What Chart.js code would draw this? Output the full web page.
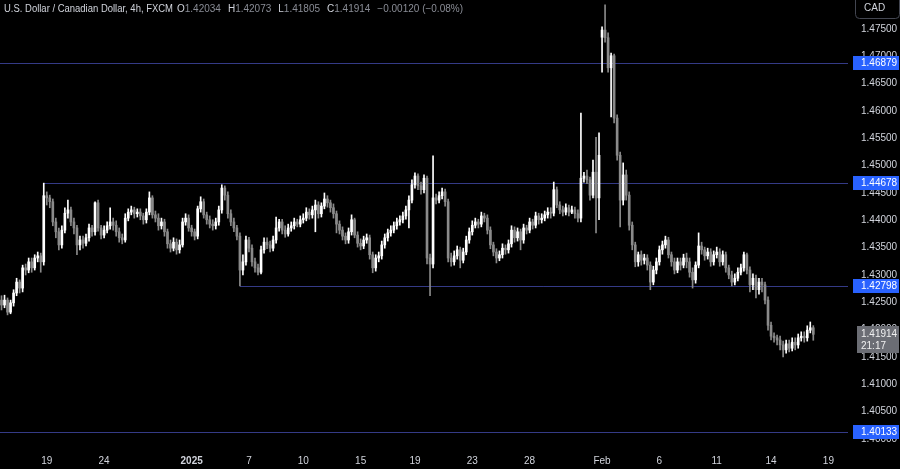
<!DOCTYPE html>
<html><head><meta charset="utf-8">
<script src="https://cdn.jsdelivr.net/npm/chart.js@4.4.1/dist/chart.umd.min.js"></script>
<style>html,body{margin:0;padding:0;background:#000;overflow:hidden}#wrap{width:900px;height:469px;position:relative}</style>
</head><body><div id="wrap"><canvas id="c"></canvas></div>
<script>
const symbolTitle = 'U.S. Dollar / Canadian Dollar, 4h, FXCM';
const currency = 'CAD';
const countdown = '21:17';

const dayNames = ['Dec 16','Dec 17','Dec 18','Dec 19','Dec 20','Dec 22','Dec 23','Dec 24','Dec 26','Dec 27','Dec 29','Dec 30','Dec 31',
'Jan 2','Jan 3','Jan 5','Jan 6','Jan 7','Jan 8','Jan 9','Jan 10','Jan 12','Jan 13','Jan 14','Jan 15','Jan 16','Jan 17','Jan 19','Jan 20','Jan 21','Jan 22','Jan 23','Jan 24','Jan 26','Jan 27','Jan 28','Jan 29','Jan 30','Jan 31',
'Feb 2','Feb 3','Feb 4','Feb 5','Feb 6','Feb 7','Feb 9','Feb 10','Feb 11','Feb 12','Feb 13','Feb 14','Feb 16','Feb 17','Feb 18','Feb 19','Feb 20'];
const dayCounts = [3,6,6,6,6,1,6,5,6,6,1,6,5,
6,6,1,6,6,6,6,6,1,6,6,6,6,6,1,6,6,6,6,6,1,6,6,6,6,6,
1,6,6,6,6,6,1,6,6,6,6,6,1,6,6,6,1];
const tickDays  = ['Dec 19','Dec 24','Jan 2','Jan 7','Jan 10','Jan 15','Jan 19','Jan 23','Jan 28','Feb 2','Feb 6','Feb 11','Feb 14','Feb 19'];
const tickTexts = ['19','24','2025','7','10','15','19','23','28','Feb','6','11','14','19'];
const yTickStep = 0.005;

const opens = [1.4254,1.4245,1.4254,1.4232,1.4249,1.4267,1.4287,1.4276,1.4313,1.4309,
1.4324,1.4313,1.4331,1.4335,1.4324,1.4445,1.4441,1.4434,1.4397,1.4379,
1.4355,1.4382,1.4413,1.4419,1.4397,1.4386,1.4355,1.4364,1.4358,1.4368,
1.4386,1.4379,1.4432,1.4386,1.4373,1.4382,1.4390,1.4397,1.4391,1.4379,
1.4368,1.4364,1.4404,1.4415,1.4419,1.4412,1.4415,1.4408,1.4401,1.4415,
1.4441,1.4410,1.4404,1.4390,1.4397,1.4379,1.4357,1.4349,1.4360,1.4346,
1.4355,1.4397,1.4404,1.4386,1.4379,1.4371,1.4421,1.4434,1.4410,1.4401,
1.4393,1.4390,1.4397,1.4419,1.4459,1.4446,1.4412,1.4397,1.4386,1.4371,
1.4309,1.4324,1.4364,1.4349,1.4324,1.4313,1.4305,1.4346,1.4360,1.4355,
1.4349,1.4364,1.4386,1.4397,1.4382,1.4375,1.4386,1.4390,1.4397,1.4393,
1.4401,1.4404,1.4415,1.4410,1.4419,1.4428,1.4412,1.4426,1.4439,1.4432,
1.4423,1.4412,1.4393,1.4382,1.4371,1.4364,1.4379,1.4401,1.4373,1.4358,
1.4353,1.4364,1.4368,1.4337,1.4313,1.4331,1.4335,1.4355,1.4368,1.4377,
1.4382,1.4390,1.4397,1.4401,1.4408,1.4419,1.4437,1.4465,1.4481,1.4463,
1.4456,1.4477,1.4331,1.4320,1.4441,1.4437,1.4445,1.4452,1.4434,1.4331,
1.4324,1.4335,1.4346,1.4327,1.4342,1.4364,1.4379,1.4391,1.4397,1.4393,
1.4408,1.4404,1.4382,1.4355,1.4342,1.4331,1.4337,1.4349,1.4346,1.4357,
1.4382,1.4368,1.4379,1.4364,1.4386,1.4382,1.4397,1.4391,1.4408,1.4401,
1.4404,1.4410,1.4415,1.4413,1.4456,1.4428,1.4419,1.4415,1.4423,1.4415,
1.4419,1.4412,1.4404,1.4477,1.4481,1.4474,1.4446,1.4488,1.4441,1.4735,
1.4748,1.4734,1.4679,1.4701,1.4587,1.4519,1.4437,1.4483,1.4446,1.4391,
1.4355,1.4324,1.4337,1.4327,1.4331,1.4318,1.4287,1.4309,1.4324,1.4346,
1.4355,1.4364,1.4337,1.4324,1.4309,1.4324,1.4318,1.4331,1.4324,1.4305,
1.4291,1.4318,1.4353,1.4346,1.4335,1.4342,1.4324,1.4337,1.4342,1.4324,
1.4337,1.4313,1.4300,1.4287,1.4294,1.4305,1.4313,1.4337,1.4309,1.4282,
1.4294,1.4273,1.4287,1.4282,1.4254,1.4208,1.4188,1.4185,1.4181,1.4172,
1.4163,1.4174,1.4166,1.4177,1.4172,1.4185,1.4188,1.4185,1.4199,1.42034];

const highs = [1.4262,1.4263,1.4258,1.4254,1.4273,1.4294,1.4291,1.4318,1.4320,1.4331,
1.4331,1.4337,1.4342,1.4340,1.4468,1.4452,1.4446,1.4439,1.4404,1.4386,
1.4390,1.4423,1.4437,1.4424,1.4404,1.4391,1.4371,1.4371,1.4375,1.4393,
1.4391,1.4434,1.4437,1.4391,1.4390,1.4397,1.4423,1.4404,1.4399,1.4386,
1.4375,1.4412,1.4421,1.4426,1.4424,1.4421,1.4421,1.4413,1.4421,1.4452,
1.4445,1.4417,1.4412,1.4404,1.4402,1.4384,1.4364,1.4368,1.4366,1.4364,
1.4404,1.4412,1.4410,1.4391,1.4384,1.4426,1.4443,1.4439,1.4415,1.4408,
1.4401,1.4404,1.4426,1.4465,1.4463,1.4452,1.4419,1.4404,1.4391,1.4377,
1.4337,1.4371,1.4369,1.4355,1.4331,1.4320,1.4353,1.4368,1.4368,1.4362,
1.4371,1.4406,1.4402,1.4402,1.4390,1.4393,1.4397,1.4404,1.4402,1.4408,
1.4412,1.4423,1.4421,1.4426,1.4437,1.4434,1.4432,1.4450,1.4445,1.4437,
1.4430,1.4417,1.4399,1.4388,1.4377,1.4386,1.4410,1.4404,1.4379,1.4366,
1.4371,1.4375,1.4373,1.4342,1.4337,1.4342,1.4362,1.4375,1.4384,1.4390,
1.4397,1.4404,1.4408,1.4415,1.4426,1.4445,1.4474,1.4487,1.4485,1.4470,
1.4483,1.4481,1.4338,1.4518,1.4448,1.4452,1.4459,1.4457,1.4439,1.4340,
1.4344,1.4353,1.4351,1.4349,1.4371,1.4386,1.4399,1.4404,1.4402,1.4415,
1.4413,1.4410,1.4388,1.4360,1.4348,1.4344,1.4357,1.4355,1.4364,1.4390,
1.4388,1.4386,1.4384,1.4393,1.4391,1.4404,1.4402,1.4415,1.4413,1.4412,
1.4417,1.4423,1.4423,1.4470,1.4461,1.4434,1.4426,1.4430,1.4428,1.4426,
1.4424,1.4419,1.4596,1.4488,1.4492,1.4479,1.4510,1.4552,1.4560,1.4754,
1.4794,1.4743,1.4706,1.4704,1.4593,1.4525,1.4505,1.4492,1.4452,1.4397,
1.4360,1.4342,1.4344,1.4338,1.4337,1.4324,1.4316,1.4331,1.4353,1.4362,
1.4371,1.4369,1.4342,1.4331,1.4331,1.4331,1.4338,1.4340,1.4331,1.4313,
1.4324,1.4377,1.4360,1.4351,1.4349,1.4348,1.4344,1.4351,1.4348,1.4344,
1.4342,1.4318,1.4307,1.4302,1.4313,1.4320,1.4342,1.4340,1.4315,1.4302,
1.4300,1.4294,1.4294,1.4287,1.4260,1.4214,1.4194,1.4190,1.4188,1.4179,
1.4181,1.4181,1.4185,1.4185,1.4192,1.4196,1.4196,1.4207,1.4214,1.42073];

const lows = [1.4236,1.4240,1.4227,1.4229,1.4243,1.4262,1.4267,1.4269,1.4300,1.4304,
1.4305,1.4309,1.4324,1.4305,1.4318,1.4428,1.4423,1.4390,1.4368,1.4346,
1.4349,1.4377,1.4404,1.4390,1.4375,1.4337,1.4346,1.4349,1.4353,1.4362,
1.4371,1.4373,1.4380,1.4366,1.4368,1.4377,1.4384,1.4382,1.4371,1.4360,
1.4357,1.4360,1.4399,1.4410,1.4404,1.4406,1.4401,1.4393,1.4395,1.4410,
1.4404,1.4397,1.4382,1.4384,1.4371,1.4349,1.4342,1.4344,1.4338,1.4340,
1.4351,1.4391,1.4380,1.4371,1.4364,1.4366,1.4415,1.4404,1.4393,1.4386,
1.4382,1.4384,1.4391,1.4413,1.4437,1.4404,1.4390,1.4379,1.4364,1.4280,
1.4300,1.4318,1.4342,1.4316,1.4305,1.4300,1.4302,1.4340,1.4348,1.4342,
1.4344,1.4358,1.4380,1.4375,1.4369,1.4371,1.4380,1.4384,1.4388,1.4388,
1.4395,1.4399,1.4402,1.4404,1.4379,1.4404,1.4406,1.4421,1.4424,1.4415,
1.4404,1.4377,1.4375,1.4364,1.4357,1.4358,1.4373,1.4368,1.4351,1.4346,
1.4348,1.4358,1.4329,1.4304,1.4307,1.4324,1.4329,1.4349,1.4362,1.4371,
1.4377,1.4384,1.4391,1.4395,1.4402,1.4386,1.4432,1.4459,1.4456,1.4448,
1.4450,1.4320,1.4262,1.4313,1.4430,1.4432,1.4439,1.4426,1.4324,1.4316,
1.4318,1.4329,1.4313,1.4322,1.4337,1.4358,1.4373,1.4386,1.4386,1.4388,
1.4397,1.4375,1.4348,1.4335,1.4322,1.4326,1.4331,1.4338,1.4340,1.4351,
1.4360,1.4362,1.4346,1.4358,1.4375,1.4377,1.4384,1.4386,1.4393,1.4395,
1.4399,1.4404,1.4404,1.4408,1.4423,1.4412,1.4408,1.4410,1.4408,1.4412,
1.4404,1.4397,1.4397,1.4470,1.4467,1.4437,1.4441,1.4377,1.4401,1.4671,
1.4726,1.4671,1.4589,1.4578,1.4510,1.4388,1.4428,1.4437,1.4382,1.4346,
1.4315,1.4316,1.4318,1.4320,1.4309,1.4273,1.4282,1.4302,1.4318,1.4338,
1.4349,1.4331,1.4316,1.4302,1.4304,1.4309,1.4313,1.4313,1.4296,1.4276,
1.4285,1.4313,1.4338,1.4327,1.4329,1.4316,1.4318,1.4331,1.4316,1.4318,
1.4305,1.4293,1.4280,1.4282,1.4289,1.4300,1.4307,1.4302,1.4269,1.4273,
1.4258,1.4265,1.4269,1.4247,1.4199,1.4181,1.4177,1.4172,1.4163,1.4150,
1.4157,1.4159,1.4161,1.4163,1.4166,1.4179,1.4177,1.4179,1.4194,1.41805];

const closes = [1.4245,1.4254,1.4232,1.4249,1.4267,1.4287,1.4276,1.4313,1.4309,1.4324,
1.4313,1.4331,1.4335,1.4324,1.4445,1.4441,1.4434,1.4397,1.4379,1.4355,
1.4382,1.4413,1.4419,1.4397,1.4386,1.4355,1.4364,1.4358,1.4368,1.4386,
1.4379,1.4432,1.4386,1.4373,1.4382,1.4390,1.4397,1.4391,1.4379,1.4368,
1.4364,1.4404,1.4415,1.4419,1.4412,1.4415,1.4408,1.4401,1.4415,1.4441,
1.4410,1.4404,1.4390,1.4397,1.4379,1.4357,1.4349,1.4360,1.4346,1.4355,
1.4397,1.4404,1.4386,1.4379,1.4371,1.4421,1.4434,1.4410,1.4401,1.4393,
1.4390,1.4397,1.4419,1.4459,1.4446,1.4412,1.4397,1.4386,1.4371,1.4309,
1.4324,1.4364,1.4349,1.4324,1.4313,1.4305,1.4346,1.4360,1.4355,1.4349,
1.4364,1.4386,1.4397,1.4382,1.4375,1.4386,1.4390,1.4397,1.4393,1.4401,
1.4404,1.4415,1.4410,1.4419,1.4428,1.4412,1.4426,1.4439,1.4432,1.4423,
1.4412,1.4393,1.4382,1.4371,1.4364,1.4379,1.4401,1.4373,1.4358,1.4353,
1.4364,1.4368,1.4337,1.4313,1.4331,1.4335,1.4355,1.4368,1.4377,1.4382,
1.4390,1.4397,1.4401,1.4408,1.4419,1.4437,1.4465,1.4481,1.4463,1.4456,
1.4477,1.4331,1.4320,1.4441,1.4437,1.4445,1.4452,1.4434,1.4331,1.4324,
1.4335,1.4346,1.4327,1.4342,1.4364,1.4379,1.4391,1.4397,1.4393,1.4408,
1.4404,1.4382,1.4355,1.4342,1.4331,1.4337,1.4349,1.4346,1.4357,1.4382,
1.4368,1.4379,1.4364,1.4386,1.4382,1.4397,1.4391,1.4408,1.4401,1.4404,
1.4410,1.4415,1.4413,1.4456,1.4428,1.4419,1.4415,1.4423,1.4415,1.4419,
1.4412,1.4404,1.4477,1.4481,1.4474,1.4446,1.4488,1.4441,1.4519,1.4748,
1.4734,1.4679,1.4701,1.4587,1.4519,1.4437,1.4483,1.4446,1.4391,1.4355,
1.4324,1.4337,1.4327,1.4331,1.4318,1.4287,1.4309,1.4324,1.4346,1.4355,
1.4364,1.4337,1.4324,1.4309,1.4324,1.4318,1.4331,1.4324,1.4305,1.4291,
1.4318,1.4353,1.4346,1.4335,1.4342,1.4324,1.4337,1.4342,1.4324,1.4337,
1.4313,1.4300,1.4287,1.4294,1.4305,1.4313,1.4337,1.4309,1.4282,1.4294,
1.4273,1.4287,1.4282,1.4254,1.4208,1.4188,1.4185,1.4181,1.4172,1.4163,
1.4174,1.4166,1.4177,1.4172,1.4185,1.4188,1.4185,1.4199,1.42034,1.41914];

const levels = [1.46879, 1.44678, 1.42798, 1.40133];
const levelAnchors = [null, 14, 79, null];

// ---- build category labels ----
const catLabels = [];
const tickAt = {};
dayNames.forEach((d, k) => {
  const p = tickDays.indexOf(d);
  if (p >= 0) tickAt[catLabels.length] = tickTexts[p];
  for (let j = 0; j < dayCounts[k]; j++) catLabels.push(d + ' ' + String(j * 4).padStart(2, '0') + ':00');
});

const UP = '#ffffff', DOWN = '#8a8a8a';
const candleColors = closes.map((c, i) => c >= opens[i] ? UP : DOWN);
const FONT = '"Liberation Sans", Arial, sans-serif';
const TXT = '#d1d4dc';
const Y_MIN = 1.398527, Y_MAX = 1.480305;

const overlay = {
  id: 'overlay',
  beforeDraw(chart) {
    const c = chart.ctx;
    c.save(); c.fillStyle = '#000'; c.fillRect(0, 0, chart.width, chart.height); c.restore();
  },
  beforeDatasetsDraw(chart) {
    const c = chart.ctx, ys = chart.scales.y, xs = chart.scales.x, a = chart.chartArea;
    c.save();
    c.strokeStyle = '#343a86'; c.lineWidth = 1;
    levels.forEach((v, k) => {
      const py = Math.round(ys.getPixelForValue(v)) + 0.5;
      const x0 = levelAnchors[k] == null ? a.left : xs.getPixelForValue(levelAnchors[k]);
      c.beginPath(); c.moveTo(x0, py); c.lineTo(a.right, py); c.stroke();
    });
    c.restore();
  },
  afterDraw(chart) {
    const c = chart.ctx, ys = chart.scales.y;
    c.save();
    c.font = '10px ' + FONT;
    c.textBaseline = 'middle';
    levels.forEach(v => {
      const py = Math.round(ys.getPixelForValue(v));
      c.fillStyle = '#2962ff';
      c.fillRect(853, py - 7, 46, 14);
      c.fillStyle = '#ffffff';
      c.textAlign = 'left';
      c.fillText(v.toFixed(5), 861, py + 0.5);
    });
    const last = closes.length - 1;
    const lp = Math.round(ys.getPixelForValue(closes[last]));
    c.fillStyle = '#6b6d74';
    c.fillRect(857, lp - 8, 42, 27);
    c.fillStyle = '#f0f0f0';
    c.fillText(closes[last].toFixed(5), 861, lp + 0.5);
    c.fillText(countdown, 861, lp + 12.5);
    c.strokeStyle = '#434651'; c.lineWidth = 1;
    c.beginPath();
    c.roundRect(855.5, -4.5, 44, 23, 4);
    c.stroke();
    c.fillStyle = TXT; c.textAlign = 'left';
    c.fillText(currency, 864, 8.5);
    c.textBaseline = 'alphabetic';
    let x = 4;
    const yb = 12;
    c.fillStyle = TXT;
    c.fillText(symbolTitle, x, yb, 169);
    x = 177;
    const prev = closes[last - 1];
    const chg = closes[last] - prev;
    const pct = chg / prev * 100;
    const parts = [['O', opens[last]], ['H', highs[last]], ['L', lows[last]], ['C', closes[last]]];
    parts.forEach(([k, v]) => {
      c.fillStyle = TXT; c.fillText(k, x, yb); x += c.measureText(k).width;
      const s = v.toFixed(5);
      c.fillStyle = '#8a8d96'; c.fillText(s, x, yb); x += c.measureText(s).width + 7;
    });
    c.fillStyle = '#8a8d96';
    const chgTxt = (chg < 0 ? '\u2212' : '+') + Math.abs(chg).toFixed(5) + ' (' + (pct < 0 ? '\u2212' : '+') + Math.abs(pct).toFixed(2) + '%)';
    c.fillText(chgTxt, x, yb);
    c.restore();
  }
};

new Chart(document.getElementById('c'), {
  type: 'bar',
  data: {
    labels: catLabels,
    datasets: [
      { label: 'wick', data: lows.map((l, i) => [l, highs[i]]), backgroundColor: candleColors, barThickness: 1, grouped: false, order: 2, borderWidth: 0 },
      { label: 'body', data: opens.map((o, i) => [o, closes[i]]), backgroundColor: candleColors, barThickness: 2, minBarLength: 1, grouped: false, order: 1, borderWidth: 0 }
    ]
  },
  options: {
    responsive: true, maintainAspectRatio: false, animation: false,
    layout: { padding: 0 },
    plugins: { legend: { display: false }, tooltip: { enabled: false }, title: { display: false } },
    scales: {
      x: {
        type: 'category', offset: true,
        grid: { display: false, drawTicks: false }, border: { display: false },
        ticks: {
          autoSkip: false, maxRotation: 0, minRotation: 0, padding: 8, color: TXT,
          callback: (v, i) => tickAt[i] || '',
          font: ctx => ({ family: FONT, size: 10, weight: (tickAt[ctx.index] === tickTexts[2]) ? 'bold' : 'normal' })
        },
        afterFit: s => { s.height = 22; s.paddingLeft = 0; s.paddingRight = 0; }
      },
      y: {
        position: 'right', min: Y_MIN, max: Y_MAX,
        grid: { display: false, drawTicks: false }, border: { display: false },
        ticks: { stepSize: yTickStep, includeBounds: false, padding: 13, color: TXT, font: { family: FONT, size: 10 }, callback: v => Number(v).toFixed(5) },
        afterBuildTicks: s => { s.ticks = s.ticks.filter(t => t.value > Y_MIN + 0.001 && t.value < Y_MAX - 0.002); },
        afterFit: s => { s.width = 52; s.paddingTop = 0; s.paddingBottom = 0; }
      }
    }
  },
  plugins: [overlay]
});
</script></body></html>
